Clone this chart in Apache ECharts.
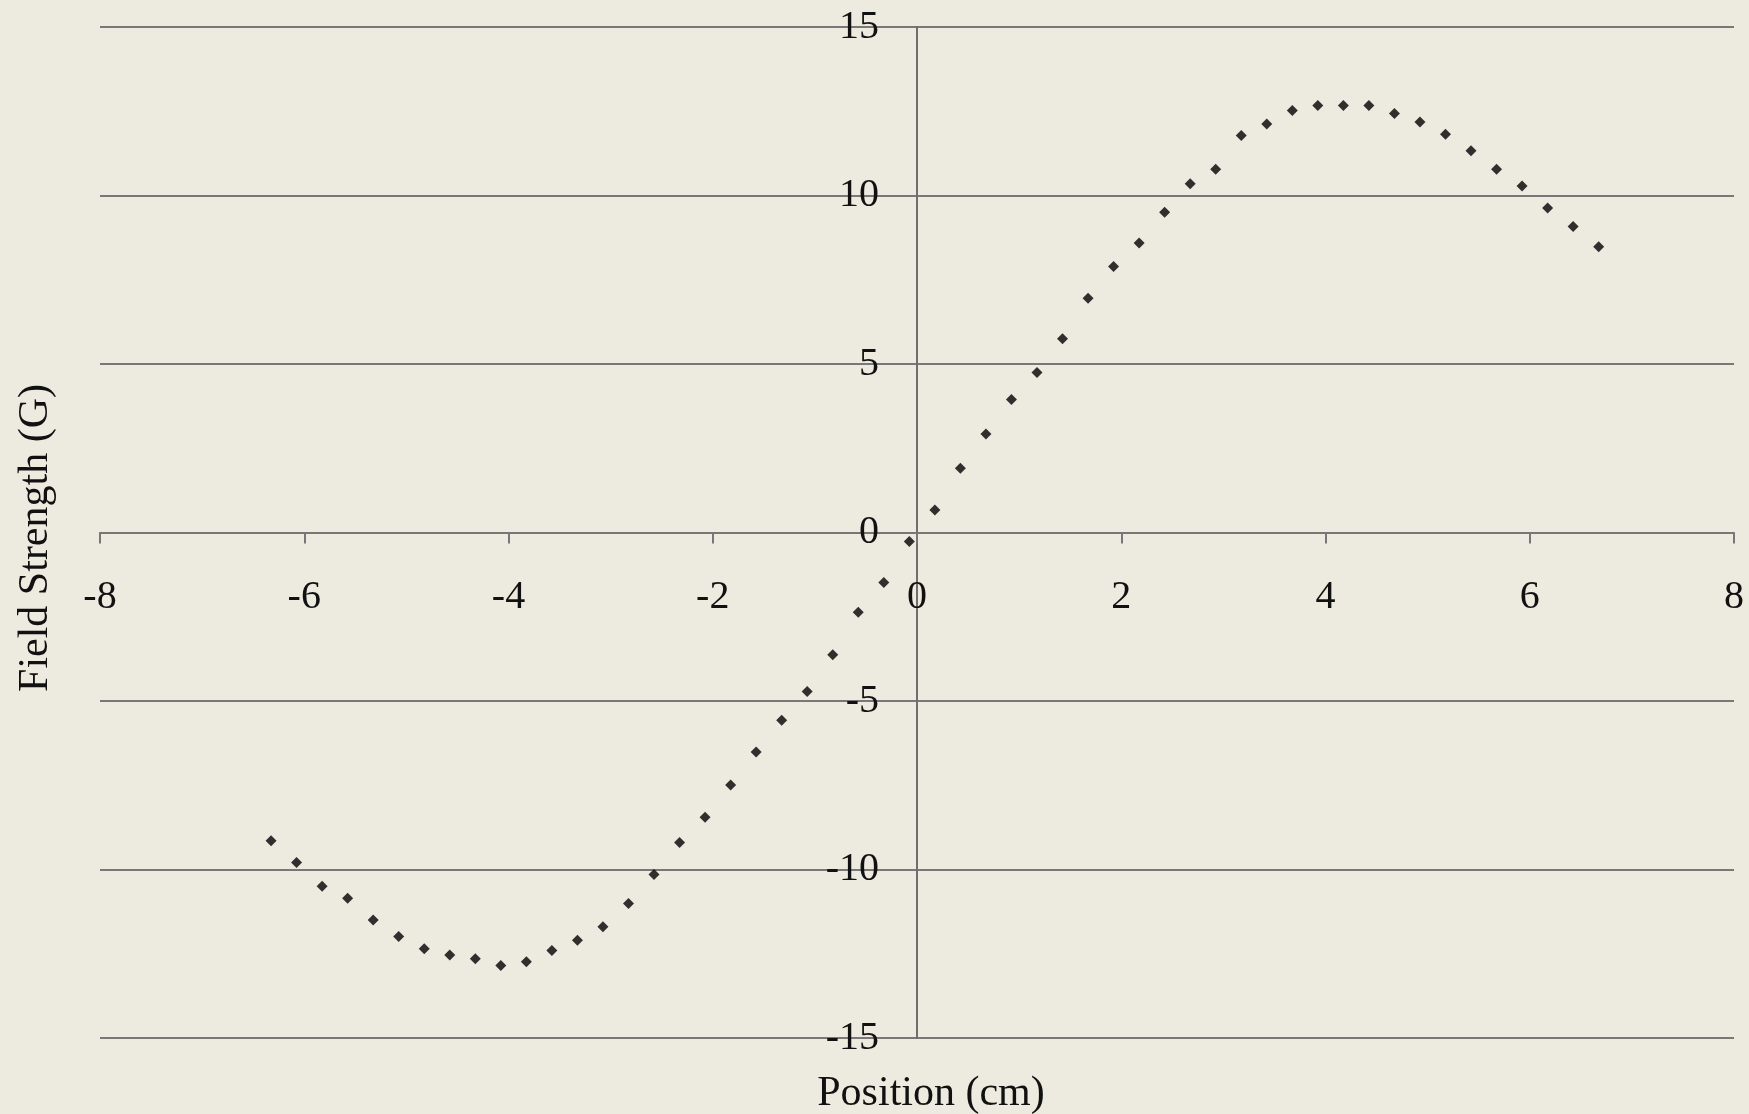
<!DOCTYPE html>
<html>
<head>
<meta charset="utf-8">
<script src="https://cdn.jsdelivr.net/npm/echarts@6/dist/echarts.min.js"></script>
<style>
html,body{margin:0;padding:0;background:#EDEBE0;}
#chart{width:1749px;height:1114px;}
</style>
</head>
<body>
<div id="chart"></div>
<script>
// Data
const positions = [-6.325, -6.075, -5.825, -5.575, -5.325, -5.075, -4.825, -4.575, -4.325, -4.075,
  -3.825, -3.575, -3.325, -3.075, -2.825, -2.575, -2.325, -2.075, -1.825, -1.575,
  -1.325, -1.075, -0.825, -0.575, -0.325, -0.075, 0.175, 0.425, 0.675, 0.925,
  1.175, 1.425, 1.675, 1.925, 2.175, 2.425, 2.675, 2.925, 3.175, 3.425,
  3.675, 3.925, 4.175, 4.425, 4.675, 4.925, 5.175, 5.425, 5.675, 5.925,
  6.175, 6.425, 6.675];
const fieldStrength = [-9.15, -9.79, -10.50, -10.85, -11.50, -11.99, -12.35, -12.54, -12.65, -12.85,
  -12.74, -12.40, -12.10, -11.70, -11.01, -10.15, -9.20, -8.45, -7.49, -6.51,
  -5.57, -4.72, -3.63, -2.37, -1.48, -0.27, 0.67, 1.91, 2.92, 3.95,
  4.75, 5.75, 6.95, 7.89, 8.59, 9.50, 10.35, 10.78, 11.78, 12.12,
  12.52, 12.67, 12.67, 12.67, 12.43, 12.18, 11.82, 11.33, 10.78, 10.28,
  9.63, 9.08, 8.48];
const xAxisTitle = 'Position (cm)';
const yAxisTitle = 'Field Strength (G)';

const points = positions.map((x, i) => [x, fieldStrength[i]]);
const serif = '"Liberation Serif", "Times New Roman", serif';
const W = 1749, H = 1114;
const G = {left: 100, right: 15, top: 27, bottom: 76};
const gridW = W - G.left - G.right, gridH = H - G.top - G.bottom;

const chart = echarts.init(document.getElementById('chart'));
chart.setOption({
  backgroundColor: '#EDEBE0',
  animation: false,
  grid: Object.assign({containLabel: false}, G),
  xAxis: {
    type: 'value', min: -8, max: 8, interval: 2, position: 'bottom',
    offset: -gridH / 2,
    axisLine: {onZero: false, lineStyle: {color: '#777', width: 2}},
    axisTick: {show: true, length: 11, lineStyle: {color: '#777', width: 2}},
    axisLabel: {fontFamily: serif, fontSize: 40, color: '#111', margin: 45},
    splitLine: {show: false}
  },
  yAxis: {
    type: 'value', min: -15, max: 15, interval: 5, position: 'left',
    offset: -gridW / 2,
    axisLine: {onZero: false, lineStyle: {color: '#6e6e6e', width: 2}},
    axisTick: {show: false},
    axisLabel: {fontFamily: serif, fontSize: 40, color: '#111', margin: 38},
    splitLine: {show: true, lineStyle: {color: '#787878', width: 2}}
  },
  graphic: [
    {type: 'text', x: 931, y: 1094,
     style: {text: xAxisTitle, fontFamily: serif, fontSize: 42, fill: '#111', align: 'center', verticalAlign: 'middle'}},
    {type: 'text', x: 36, y: 538, rotation: Math.PI / 2,
     style: {text: yAxisTitle, fontFamily: serif, fontSize: 42, fill: '#111', align: 'center', verticalAlign: 'middle'}}
  ],
  series: [{
    type: 'scatter',
    data: points,
    symbol: 'diamond',
    symbolSize: 11,
    itemStyle: {color: '#000'}
  }]
});
</script>
</body>
</html>
